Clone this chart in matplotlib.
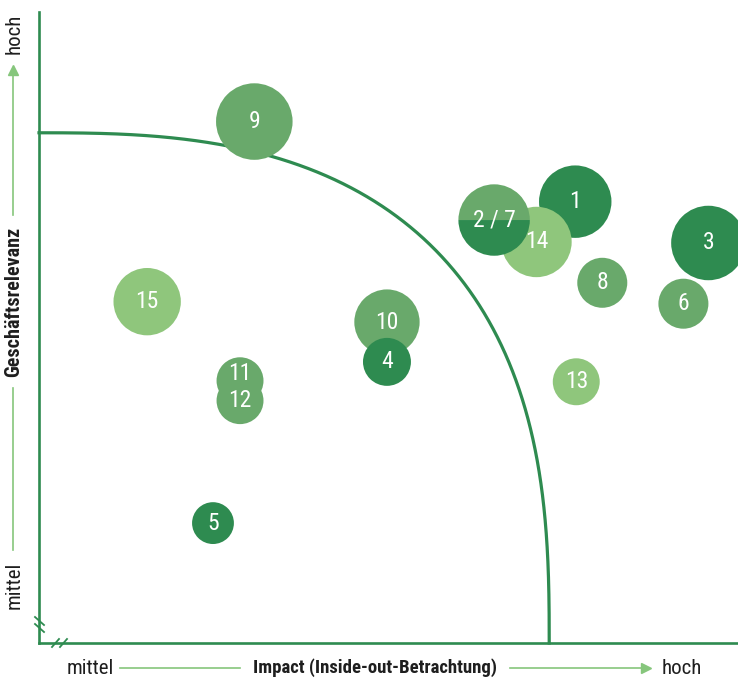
import numpy as np
import matplotlib.pyplot as plt
import matplotlib.font_manager as fm
from matplotlib.patches import Circle, Wedge
from matplotlib.lines import Line2D

# bubbles: impact (x), business relevance (y), bubble radius, tone
labels = ['9', '15', '11', '12', '5', '10', '4', '13', '8', '6', '3', '1', '14']
impact = [42.2, 21.2, 39.4, 39.4, 34.1, 68.2, 68.2, 105.3, 110.4, 126.3, 131.2, 105.1, 97.5]
relevance = [102.2, 66.9, 51.4, 47.5, 23.5, 62.9, 55.1, 51.2, 70.6, 66.5, 78.4, 86.5, 78.6]
size = [7.5, 6.6, 4.6, 4.6, 4.1, 6.4, 4.7, 4.6, 4.9, 4.9, 7.3, 7.1, 6.9]
tone = ['mid', 'light', 'mid', 'mid', 'dark', 'mid', 'dark', 'light', 'mid', 'mid', 'dark', 'dark', 'light']

# topic 2 and 7 share one bubble (top half / bottom half)
split_label = '2 / 7'
split_impact = 89.2
split_relevance = 82.9
split_size = 7.0
split_tones = ['mid', 'dark']

colors = {'dark': '#2e8b50', 'mid': '#69a96b', 'light': '#8fc67c'}
axis_green = '#2e8b50'
arrow_green = '#86c67c'
ink = '#1e1e1e'


def pick_font(weight):
    # narrow face, the original uses a condensed DIN-like font
    found = {}
    for f in fm.fontManager.ttflist:
        w = f.weight if isinstance(f.weight, int) else (700 if 'bold' in str(f.weight) else 400)
        if (w >= 600) != (weight == 'bold') or f.style != 'normal':
            continue
        cond = 'condensed' in str(f.stretch) or 'Condensed' in f.fname or 'Narrow' in f.fname
        if cond and 'semi' not in str(f.stretch) and 'extra' not in str(f.stretch):
            found.setdefault(f.name, f.fname)
    for name in ['Roboto Condensed', 'Liberation Sans Narrow', 'DejaVu Sans', 'Open Sans', 'Noto Sans']:
        if name in found:
            return fm.FontProperties(fname=found[name])
    return fm.FontProperties(family='DejaVu Sans', weight=weight)


reg = pick_font('normal')
bold = pick_font('bold')

W, H = 738, 678
fig = plt.figure(figsize=(W / 100, H / 100), dpi=100)
ax = fig.add_axes([39 / W, 35 / H, 699 / W, 631 / H])
ax.set_xlim(0, 137)
ax.set_ylim(0, 137 * 631 / 699)

for s in ['top', 'right']:
    ax.spines[s].set_visible(False)
for s in ['left', 'bottom']:
    ax.spines[s].set_color(axis_green)
    ax.spines[s].set_linewidth(1.9)
ax.set_xticks([])
ax.set_yticks([])

# boundary curve (rounded quarter, radius 100)
t = np.linspace(0, np.pi / 2, 300)
n = 2.7
ax.plot(100 * np.cos(t) ** (2 / n), 100 * np.sin(t) ** (2 / n),
        color=axis_green, lw=2.3, zorder=1, clip_on=False)

# 11 and 12 overlap, the label of 11 sits a little higher
nudge = {'11': 1.4}

for i, lab in enumerate(labels):
    ax.add_patch(Circle((impact[i], relevance[i]), size[i],
                        color=colors[tone[i]], lw=0, zorder=2 + i))
    ax.text(impact[i], relevance[i] + nudge.get(lab, 0), lab, color='white',
            fontproperties=reg, fontsize=17, ha='center', va='center', zorder=50)

z = 2 + len(labels)
ax.add_patch(Wedge((split_impact, split_relevance), split_size, 0, 180,
                   color=colors[split_tones[0]], lw=0, zorder=z))
ax.add_patch(Wedge((split_impact, split_relevance), split_size, 180, 360,
                   color=colors[split_tones[1]], lw=0, zorder=z))
ax.text(split_impact, split_relevance, split_label, color='white', fontproperties=reg, fontsize=17,
        ha='center', va='center', zorder=50)


def fx(px):
    return px / W


def fy(py):
    return 1 - py / H


# axis break marks
for (x1, y1, x2, y2) in [(35, 617, 44, 625), (35, 624, 44, 632),
                         (52, 647, 59, 639), (60, 647, 67, 639)]:
    fig.add_artist(Line2D([fx(x1), fx(x2)], [fy(y1), fy(y2)], color=axis_green, lw=1.3))

fs = 15
# bottom axis caption
fig.text(fx(90), fy(668), 'mittel', fontproperties=reg, fontsize=fs, ha='center', va='center', color=ink)
fig.add_artist(Line2D([fx(120), fx(240)], [fy(668), fy(668)], color=arrow_green, lw=1.2))
fig.text(fx(375), fy(668), 'Impact (Inside-out-Betrachtung)', fontproperties=bold, fontsize=13.5,
         ha='center', va='center', color=ink)
fig.add_artist(Line2D([fx(510), fx(645)], [fy(668), fy(668)], color=arrow_green, lw=1.2))
fig.add_artist(Line2D([fx(646)], [fy(668)], marker='>', markersize=7, color=arrow_green, lw=0))
fig.text(fx(682), fy(668), 'hoch', fontproperties=reg, fontsize=fs, ha='center', va='center', color=ink)

# left axis caption
fig.text(fx(14), fy(34), 'hoch', fontproperties=reg, fontsize=fs, rotation=90, ha='center', va='center',
         color=ink)
fig.add_artist(Line2D([fx(13)], [fy(70)], marker='^', markersize=7, color=arrow_green, lw=0))
fig.add_artist(Line2D([fx(13), fx(13)], [fy(72), fy(215)], color=arrow_green, lw=1.2))
fig.text(fx(14), fy(302), 'Geschäftsrelevanz', fontproperties=bold, fontsize=14.5, rotation=90,
         ha='center', va='center', color=ink)
fig.add_artist(Line2D([fx(13), fx(13)], [fy(388), fy(550)], color=arrow_green, lw=1.2))
fig.text(fx(14), fy(585), 'mittel', fontproperties=reg, fontsize=fs, rotation=90, ha='center', va='center',
         color=ink)

fig.savefig('out.png', dpi=100)
